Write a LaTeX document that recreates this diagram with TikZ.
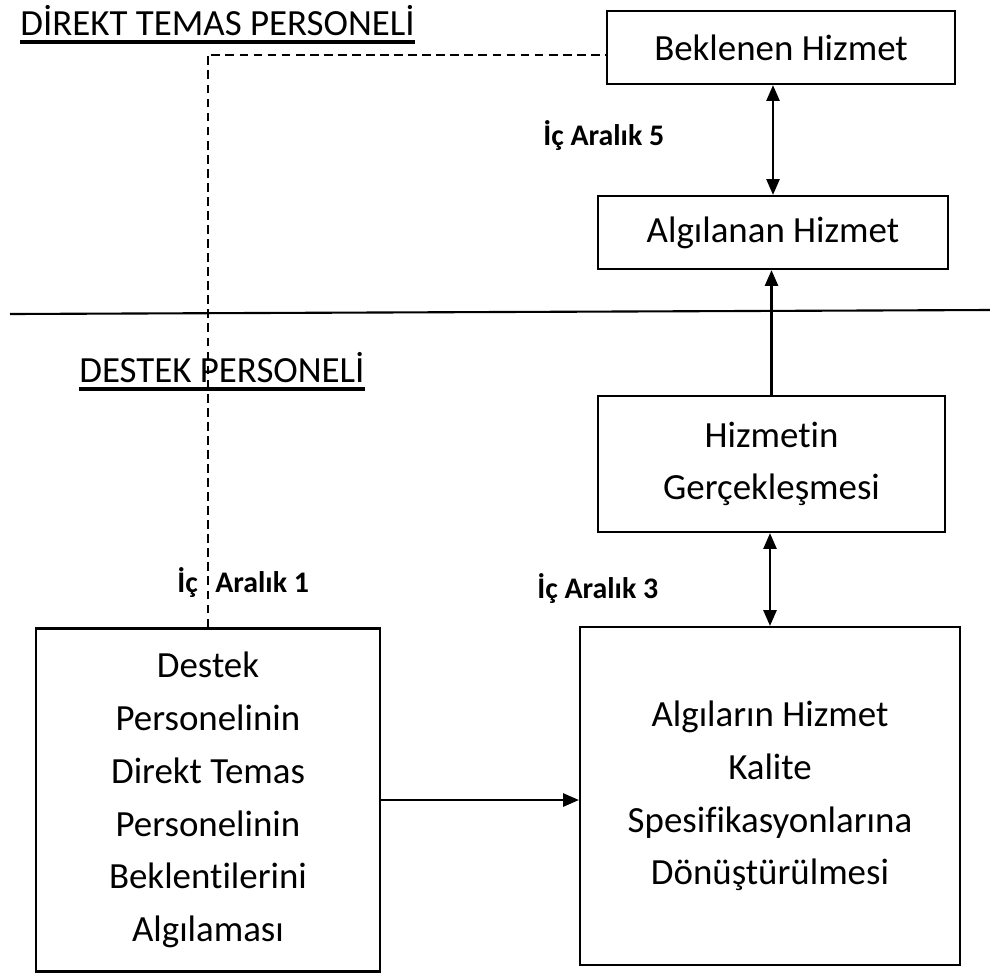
\documentclass[tikz,border=0pt]{standalone}
\usepackage{fontspec}
\setmainfont{Carlito}[Ligatures=NoCommon]
\usetikzlibrary{arrows.meta}

\begin{document}
\begin{tikzpicture}[x=0.02cm, y=-0.02cm,
    box/.style={draw, line width=1.3pt, align=center, inner sep=0pt, font=\fontsize{21}{30}\selectfont},
    head/.style={anchor=base west, inner sep=0pt, font=\fontsize{21}{24}\selectfont},
    gap/.style={anchor=base west, inner sep=0pt, font=\fontsize{17}{20}\selectfont\bfseries},
    link/.style={line width=1.2pt, -{Triangle[length=9pt, width=7.5pt]}},
    twoway/.style={line width=1.2pt, {Triangle[length=9pt, width=7.5pt]}-{Triangle[length=9pt, width=7.5pt]}}]
        \useasboundingbox (0,0) rectangle (990,978);
        % headings
        \node[head] (dtp) at (20,35) {DİREKT TEMAS PERSONELİ};
        \draw[line width=1.8pt] ([yshift=-4pt]dtp.base west) -- ([yshift=-4pt]dtp.base east);
        \node[head] (dsp) at (79,382) {DESTEK PERSONELİ};
        \draw[line width=1.8pt] ([yshift=-4pt]dsp.base west) -- ([yshift=-4pt]dsp.base east);
        \draw[line width=1.2pt] (10,314) -- (990,310);
        % boxes
        \node[box, minimum width=6.96cm, minimum height=1.46cm] (bek) at (781,47.5) {Beklenen Hizmet};
        \node[box, minimum width=7cm, minimum height=1.46cm] (alg) at (773,232.5) {Algılanan Hizmet};
        \node[box, minimum width=6.94cm, minimum height=2.72cm] (hiz) at (771.5,464) {Hizmetin\\Gerçekleşmesi};
        \node[box, minimum width=6.88cm, minimum height=6.86cm] (des) at (208,800) {Destek\\Personelinin\\Direkt Temas\\Personelinin\\Beklentilerini\\Algılaması};
        \node[box, minimum width=7.6cm, minimum height=6.76cm] (akd) at (770,796) {Algıların Hizmet\\Kalite\\Spesifikasyonlarına\\Dönüştürülmesi};
        % gaps
        \node[gap] (g5) at (543,145) {İç Aralık 5};
        \node[gap] (g3) at (537,598) {İç Aralık 3};
        \node[gap] (g1) at (177,592) {İç\hspace{0.35cm}Aralık 1};
        % connectors
        \draw[twoway] (alg.north) -- (alg.north |- bek.south);
        \draw[link] (hiz.north) -- (hiz.north |- alg.south);
        \draw[twoway] (akd.north) -- (akd.north |- hiz.south);
        \draw[link] (des.east) -- (des.east -| akd.west);
        \draw[line width=1.1pt, dash pattern=on 5pt off 3pt] (des.north) |- ([yshift=-4pt]bek.west);
\end{tikzpicture}
\end{document}
